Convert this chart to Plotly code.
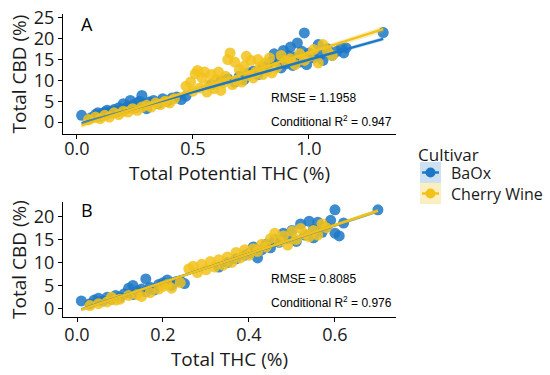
import numpy as np
import plotly.graph_objects as go

BLUE = "#1c78c6"
YELLOW = "#f2c21b"

cultivars = ["BaOx", "Cherry Wine"]

# Panel A: Total Potential THC (%) vs Total CBD (%)
a_baox_x = [0.02,0.06,0.08,0.09,0.10,0.11,0.12,0.13,0.14,0.15,0.16,0.17,0.18,0.19,0.20,0.21,0.22,0.23,0.24,0.25,0.26,0.27,0.28,0.29,0.30,0.31,0.33,0.35,0.37,0.39,0.41,0.43,0.45,0.47,
            0.58,0.62,0.65,0.68,0.70,0.72,0.74,0.76,0.78,0.80,0.82,0.84,0.85,0.87,0.88,0.89,0.90,0.91,0.92,0.93,0.94,0.95,0.96,0.97,0.98,0.99,1.00,1.02,1.04,1.05,1.06,1.08,1.10,1.12,1.14,1.15,1.16,1.32]
a_baox_y = [1.6,1.0,1.8,2.2,1.5,2.0,2.4,2.8,2.2,2.6,3.0,2.4,3.4,2.8,4.4,3.2,3.8,5.2,4.0,3.4,4.6,5.0,6.4,4.2,3.2,4.8,5.2,4.4,5.6,5.0,5.8,6.0,5.4,6.2,
            9.0,9.8,10.4,9.6,11.0,10.2,11.8,12.2,11.4,12.8,13.5,14.6,16.4,15.2,13.0,17.2,14.0,16.0,18.0,13.6,15.6,19.0,14.4,17.0,21.4,13.8,16.6,15.4,18.6,16.2,14.8,17.6,16.0,17.0,18.0,16.6,17.8,21.5]
a_cw_x = [0.05,0.08,0.10,0.12,0.14,0.16,0.18,0.20,0.22,0.24,0.26,0.28,0.30,0.32,0.34,0.36,0.38,0.40,0.42,
          0.47,0.49,0.50,0.51,0.52,0.53,0.54,0.55,0.56,0.57,0.58,0.59,0.60,0.61,0.62,0.63,0.64,0.65,0.66,0.67,0.68,0.69,0.70,0.71,0.72,0.73,0.74,0.75,0.76,0.77,0.78,0.79,0.80,0.81,0.82,0.83,0.84,0.86,0.88,0.90,0.92,0.94,0.96,0.98,1.00,1.02,1.04,1.06,1.08,1.10]
a_cw_y = [0.6,1.2,0.8,1.6,1.2,2.2,1.8,2.6,2.4,3.2,2.8,3.6,4.0,3.6,4.6,4.2,5.0,4.6,5.6,
          8.6,9.6,7.4,11.6,12.4,8.2,10.6,12.0,7.2,9.0,11.4,8.0,10.2,12.0,7.6,9.4,11.0,15.0,16.6,9.0,14.4,10.0,12.6,9.6,13.4,15.8,11.2,14.8,10.6,12.0,15.0,13.2,11.4,14.2,12.4,15.4,11.8,13.0,16.0,14.6,15.2,13.8,16.4,14.8,15.8,17.4,14.2,18.6,17.0,16.0]

# Panel B: Total THC (%) vs Total CBD (%)
b_baox_x = [0.01,0.03,0.04,0.05,0.06,0.07,0.08,0.09,0.10,0.11,0.12,0.13,0.13,0.14,0.15,0.16,0.16,0.17,0.18,0.19,0.20,0.21,0.22,0.23,0.24,0.25,
            0.33,0.35,0.37,0.39,0.40,0.41,0.42,0.43,0.44,0.45,0.46,0.47,0.48,0.49,0.50,0.51,0.52,0.53,0.54,0.55,0.55,0.56,0.57,0.58,0.59,0.60,0.60,0.61,0.62,0.70]
b_baox_y = [1.6,1.0,1.8,2.2,1.6,2.4,2.0,2.8,2.4,3.2,4.4,3.0,5.0,3.8,4.2,6.4,3.6,4.6,4.0,5.2,5.6,6.2,5.0,5.8,6.0,5.4,
            9.0,10.0,10.8,11.6,12.0,13.4,11.0,12.8,14.0,13.2,15.0,14.4,16.4,15.2,17.0,14.6,18.4,16.0,19.0,17.2,15.4,18.8,16.6,17.8,19.2,16.4,21.5,15.8,18.6,21.5]
b_cw_x = [0.03,0.05,0.07,0.08,0.09,0.10,0.12,0.14,0.15,0.17,0.19,0.20,0.21,0.22,0.24,
          0.26,0.27,0.28,0.29,0.30,0.31,0.32,0.33,0.34,0.35,0.36,0.37,0.38,0.39,0.40,0.41,0.42,0.43,0.44,0.45,0.46,0.47,0.48,0.49,0.50,0.51,0.52,0.53,0.54,0.55,0.56,0.57,0.58]
b_cw_y = [0.6,1.0,1.4,2.4,1.8,2.0,2.8,3.0,2.6,3.4,4.2,4.8,5.2,4.4,5.6,
          8.6,9.2,7.8,9.6,8.4,10.2,9.0,10.6,9.4,11.2,10.0,12.2,11.0,12.8,11.6,13.0,12.4,14.0,13.4,15.2,16.4,14.6,15.8,13.8,16.8,15.0,17.4,16.2,15.6,17.0,16.0,18.4,17.6]

# Model fit estimates (intercept, slope)
a_fit = {"BaOx": (-0.61, 15.6), "Cherry Wine": (-1.16, 17.8)}
b_fit = {"BaOx": (-0.55, 31.1), "Cherry Wine": (-0.62, 31.3)}

rmse_labels = ["RMSE = 1.1958", "RMSE = 0.8085"]
r2_labels = ["Conditional R<sup>2</sup> = 0.947", "Conditional R<sup>2</sup> = 0.976"]

colors = {"BaOx": BLUE, "Cherry Wine": YELLOW}
fills = {"BaOx": "rgba(28,120,198,0.22)", "Cherry Wine": "rgba(242,194,27,0.28)"}

fig = go.Figure()

panels = [
    ("x", "y", {"BaOx": (a_baox_x, a_baox_y), "Cherry Wine": (a_cw_x, a_cw_y)}, a_fit),
    ("x2", "y2", {"BaOx": (b_baox_x, b_baox_y), "Cherry Wine": (b_cw_x, b_cw_y)}, b_fit),
]

for xa, ya, data, fits in panels:
    for c in cultivars:
        xs, ys = data[c]
        fig.add_trace(go.Scatter(x=xs, y=ys, mode="markers", xaxis=xa, yaxis=ya,
                                 marker=dict(size=11, color=colors[c], opacity=0.85, line=dict(width=0)),
                                 showlegend=False, hoverinfo="skip"))
    allx = np.concatenate([np.array(data[c][0]) for c in cultivars])
    gx = np.linspace(allx.min(), allx.max(), 80)
    for c in cultivars:
        xs, ys = np.array(data[c][0]), np.array(data[c][1])
        b0, b1 = fits[c]
        resid = ys - (b0 + b1 * xs)
        s = np.sqrt(np.sum(resid ** 2) / (len(xs) - 2))
        xm = xs.mean()
        sxx = np.sum((xs - xm) ** 2)
        gy = b0 + b1 * gx
        hw = 1.98 * s * np.sqrt(1 / len(xs) + (gx - xm) ** 2 / sxx) * 0.6
        fig.add_trace(go.Scatter(x=np.concatenate([gx, gx[::-1]]), y=np.concatenate([gy + hw, (gy - hw)[::-1]]),
                                 fill="toself", fillcolor=fills[c], line=dict(width=0), mode="lines",
                                 xaxis=xa, yaxis=ya, showlegend=False, hoverinfo="skip"))
        fig.add_trace(go.Scatter(x=gx, y=gy, mode="lines", line=dict(color=colors[c], width=2.4),
                                 xaxis=xa, yaxis=ya, showlegend=False, hoverinfo="skip"))

TF = "Open Sans"
TC = "#1a1a1a"
axis_common = dict(showgrid=False, zeroline=False, showline=True, linecolor="black", linewidth=1,
                   ticks="outside", ticklen=4, tickcolor="black", automargin=False,
                   tickfont=dict(family=TF, size=18, color=TC))

# layout in pixels: plot area x 63..396, A y 14..134, B y 202..317
MT, MB = 5, 58
PH = 375 - MT - MB


def ydom(top, bottom):
    return [1 - (bottom - MT) / PH, 1 - (top - MT) / PH]


fig.update_layout(
    template="none",
    width=550, height=375,
    margin=dict(l=63, r=154, t=MT, b=MB),
    paper_bgcolor="white", plot_bgcolor="white",
    showlegend=False,
    xaxis=dict(domain=[0, 1], range=[-0.06, 1.375], tickvals=[0, 0.5, 1.0], ticktext=["0.0", "0.5", "1.0"],
               ticklabelstandoff=-6,
               title=dict(text="Total Potential THC (%)", font=dict(family=TF, size=19, color=TC), standoff=0),
               anchor="y", **axis_common),
    yaxis=dict(domain=ydom(14, 134), range=[-2.88, 25.96], tickvals=[0, 5, 10, 15, 20, 25],
               title=dict(text="Total CBD (%)", font=dict(family=TF, size=19, color=TC), standoff=2),
               anchor="x", **axis_common),
    xaxis2=dict(domain=[0, 1], range=[-0.0326, 0.742], tickvals=[0, 0.2, 0.4, 0.6], ticktext=["0.0", "0.2", "0.4", "0.6"],
                ticklabelstandoff=-3,
                title=dict(text="Total THC (%)", font=dict(family=TF, size=19, color=TC), standoff=0),
                anchor="y2", **axis_common),
    yaxis2=dict(domain=ydom(202, 317), range=[-1.9, 23.2], tickvals=[0, 5, 10, 15, 20],
                title=dict(text="Total CBD (%)", font=dict(family=TF, size=19, color=TC), standoff=2),
                anchor="x2", **axis_common),
)


def px2paper(px, py):
    return (px - 63) / 333, 1 - (py - MT) / PH


ann = []
for lab, (px, py) in [("A", (79, 24)), ("B", (79, 210))]:
    x, y = px2paper(px, py)
    ann.append(dict(text=lab, x=x, y=y, xref="paper", yref="paper", xanchor="left", yanchor="middle",
                    showarrow=False, font=dict(family=TF, size=18, color="black")))
for txt, (px, py) in [(rmse_labels[0], (269, 98)), (r2_labels[0], (269, 121)),
                      (rmse_labels[1], (269, 279)), (r2_labels[1], (269, 302))]:
    x, y = px2paper(px, py)
    ann.append(dict(text=txt, x=x, y=y, xref="paper", yref="paper", xanchor="left", yanchor="middle",
                    showarrow=False, font=dict(family="Liberation Sans", size=12, color="black")))

# Custom legend
lx, ly = px2paper(416, 154)
ann.append(dict(text="Cultivar", x=lx, y=ly, xref="paper", yref="paper", xanchor="left", yanchor="middle",
                showarrow=False, font=dict(family=TF, size=17, color=TC)))
shapes = []
for c, top, label in [("BaOx", 162, "BaOx"), ("Cherry Wine", 183, "Cherry Wine")]:
    x0, y0 = px2paper(420, top)
    x1, y1 = px2paper(441, top + 21)
    shapes.append(dict(type="rect", xref="paper", yref="paper", x0=x0, x1=x1, y0=y1, y1=y0,
                       fillcolor=fills[c], line=dict(width=0), layer="above"))
    ym = (y0 + y1) / 2
    shapes.append(dict(type="line", xref="paper", yref="paper", x0=px2paper(422, 0)[0], x1=px2paper(439, 0)[0],
                       y0=ym, y1=ym, line=dict(color=colors[c], width=2.4), layer="above"))
    cx0, cy0 = px2paper(425.5, top + 5.5)
    cx1, cy1 = px2paper(435.5, top + 15.5)
    shapes.append(dict(type="circle", xref="paper", yref="paper", x0=cx0, x1=cx1, y0=cy1, y1=cy0,
                       fillcolor=colors[c], line=dict(width=0), layer="above"))
    tx, ty = px2paper(449, top + 10.5)
    ann.append(dict(text=label, x=tx, y=ty, xref="paper", yref="paper", xanchor="left", yanchor="middle",
                    showarrow=False, font=dict(family=TF, size=16, color=TC)))

fig.update_layout(annotations=ann, shapes=shapes)
fig.write_html("out.html", config={"displayModeBar": False},
               post_script="document.body.style.margin='0';document.body.style.padding='0';")
